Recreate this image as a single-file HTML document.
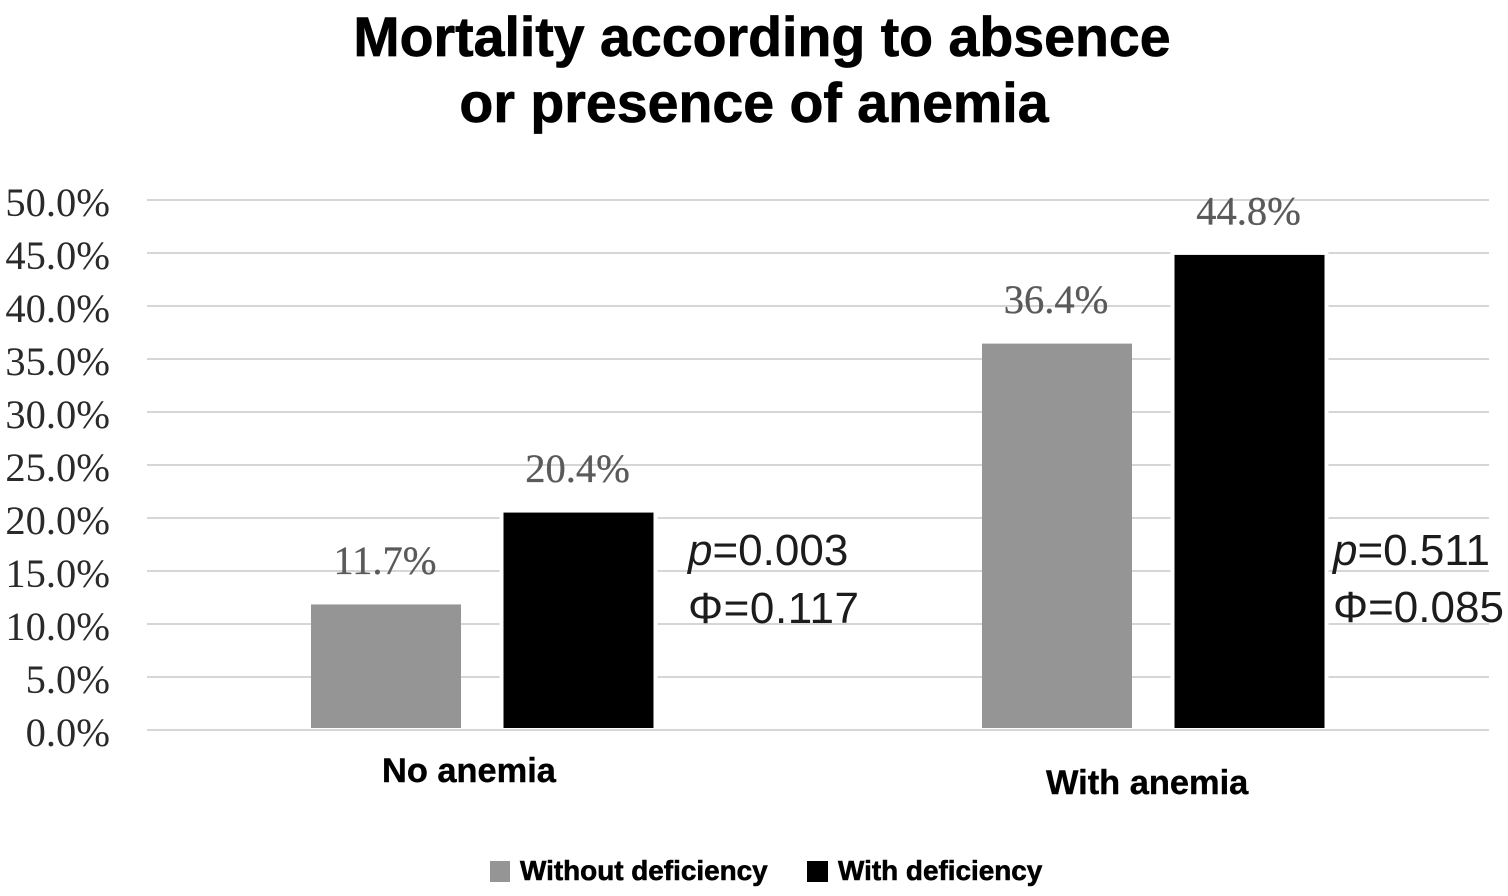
<!DOCTYPE html>
<html lang="en">
<head>
<meta charset="utf-8">
<title>Mortality according to absence or presence of anemia</title>
<style>
html,body{margin:0;padding:0;background:#fff;}
svg{display:block;}
.title{font:bold 55.5px "Liberation Sans",sans-serif;fill:#000;stroke:#000;stroke-width:.7px;text-anchor:middle;}
.tick{font:40.5px "Liberation Serif",serif;fill:#2a2a2a;text-anchor:end;}
.val{font:40.5px "Liberation Serif",serif;fill:#5a5a5a;stroke:#5a5a5a;stroke-width:.3px;text-anchor:middle;}
.stat{font:44px "Liberation Sans",sans-serif;fill:#1c1c1c;}
.cat{font:bold 34.4px "Liberation Sans",sans-serif;fill:#000;stroke:#000;stroke-width:.4px;}
.leg{font:bold 27.9px "Liberation Sans",sans-serif;fill:#000;stroke:#000;stroke-width:.6px;}
</style>
</head>
<body>
<svg id="chart" width="1508" height="896" viewBox="0 0 1508 896" xmlns="http://www.w3.org/2000/svg">
  <text class="title" x="762" y="56">Mortality according to absence</text>
  <text class="title" x="754" y="122">or presence of anemia</text>
  <g id="grid"></g>
  <g id="ticks"></g>
  <g id="bars"></g>
  <g id="labels"></g>

  <text class="stat" x="688" y="565"><tspan font-style="italic">p</tspan>=0.003</text>
  <text class="stat" x="688" y="623" textLength="171">Φ=0.117</text>
  <text class="stat" x="1333" y="565"><tspan font-style="italic">p</tspan>=0.511</text>
  <text class="stat" x="1333" y="622">Φ=0.085</text>

  <text class="cat" x="382" y="782">No anemia</text>
  <text class="cat" x="1046" y="794">With anemia</text>

  <g>
    <rect x="490" y="861" width="20" height="21" fill="#959595"></rect>
    <text class="leg" x="520" y="880">Without deficiency</text>
    <rect x="807" y="861" width="21" height="21" fill="#000"></rect>
    <text class="leg" x="838" y="880">With deficiency</text>
  </g>
</svg>
<script>
const categories = ["No anemia", "With anemia"];
const withoutDeficiency = [11.7, 36.4];
const withDeficiency = [20.4, 44.8];
const tickValues = [0, 5, 10, 15, 20, 25, 30, 35, 40, 45, 50];
const tickLabels = ["0.0%", "5.0%", "10.0%", "15.0%", "20.0%", "25.0%", "30.0%", "35.0%", "40.0%", "45.0%", "50.0%"];

const NS = "http://www.w3.org/2000/svg";
function yScale(v) { return 730 - v * 10.6; }
function barY(v) { return 728 - v * 10.56; }
function groupCenter(i) { return 482 + i * 671; }
function make(parent, tag, attrs, text) {
  const el = document.createElementNS(NS, tag);
  for (const k in attrs) el.setAttribute(k, attrs[k]);
  if (text !== undefined) el.textContent = text;
  document.getElementById(parent).appendChild(el);
  return el;
}

tickValues.forEach(function (v, i) {
  const line = make("grid", "line", { x1: 147, x2: 1489, y1: yScale(v), y2: yScale(v), stroke: "#d6d6d6", "stroke-width": 2 });
  
  
  const label = make("ticks", "text", { class: "tick", x: 110, y: yScale(v) + 16 }, tickLabels[i]);
  
  
});

function drawBar(center, value, fill, halo) {
  const w = 150;
  if (halo) {
    const h = make("bars", "rect", { x: center - w / 2 - 4, y: barY(value) - 3, width: w + 8, height: barY(0) - barY(value) + 3, fill: "#fff" });
    
    
  }
  const r = make("bars", "rect", { x: center - w / 2, y: barY(value), width: w, height: barY(0) - barY(value), fill: fill });
  
  
  const t = make("labels", "text", { class: "val", x: center - 1, y: barY(value) - 30.5 }, value.toFixed(1) + "%");
  
  
}

categories.forEach(function (c, i) {
  const mid = groupCenter(i);
  drawBar(mid - 96, withoutDeficiency[i], "#959595", false);
  drawBar(mid + 96.5, withDeficiency[i], "#000", true);
});
</script>
</body>
</html>
